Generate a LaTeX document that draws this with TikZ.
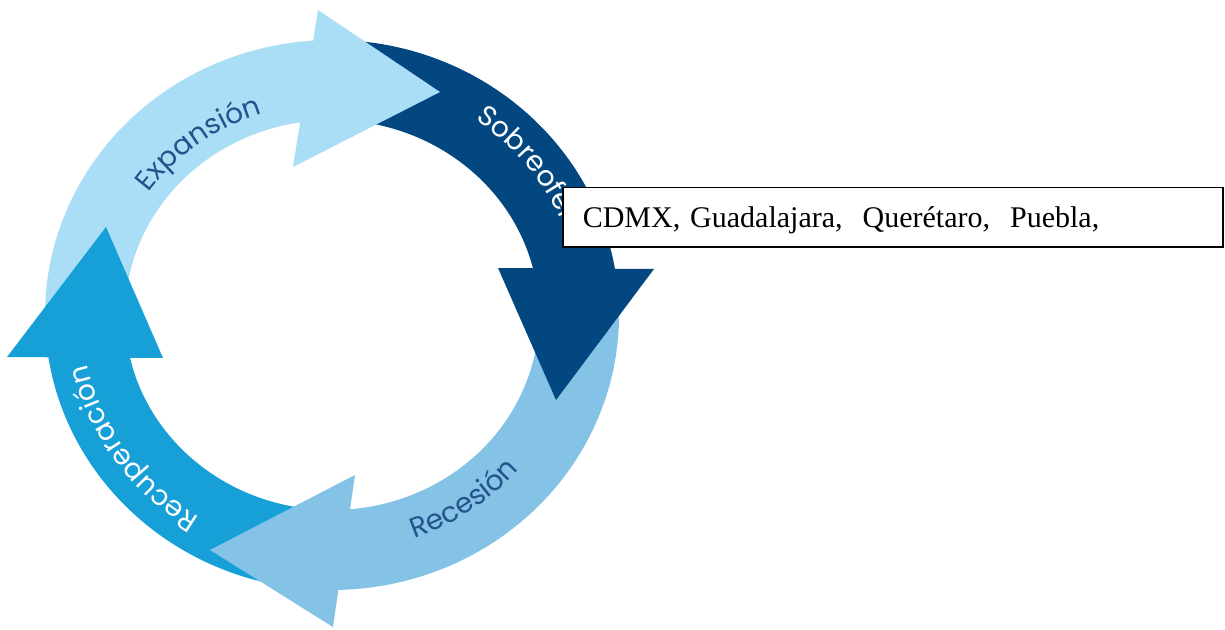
\documentclass[tikz,border=0pt]{standalone}
\usepackage{fontspec}
\setmainfont{Liberation Serif}
\newfontfamily\cyclefont{Poppins}
\definecolor{expblue}{RGB}{170,222,247}
\definecolor{sobreblue}{RGB}{3,71,128}
\definecolor{recesblue}{RGB}{133,195,230}
\definecolor{recupblue}{RGB}{23,160,216}
\definecolor{labelblue}{RGB}{36,82,140}
\newcommand{\cyclesize}{\cyclefont\fontsize{28}{32}\selectfont}
\usetikzlibrary{decorations.text}
\tikzset{
	outerarc/.style={
		x radius=287pt,
		y radius=275pt,
	},
	innerarc/.style={
		x radius=207pt,
		y radius=195pt,
	},
	citybox/.style={
		rectangle,
		draw=black,
		line width=1.5pt,
		fill=white,
		inner xsep=20pt,
		inner ysep=0pt,
		text width=620pt,
		align=left,
		text height=40pt,
		text depth=19.7pt,
		font=\fontsize{30}{34}\selectfont,
	},
}

\begin{document}
\begin{tikzpicture}[x=1pt,y=1pt]
	\useasboundingbox (-332,-314) rectangle (893,315);
	\fill[expblue] (185:287pt and 275pt) arc[outerarc,start angle=185,end angle=89] -- (89:207pt and 195pt) arc[innerarc,start angle=89,end angle=185] -- cycle;
	\fill[sobreblue] (92:287pt and 275pt) arc[outerarc,start angle=92,end angle=6] -- (6:207pt and 195pt) arc[innerarc,start angle=6,end angle=92] -- cycle;
	\fill[recesblue] (8:287pt and 275pt) arc[outerarc,start angle=8,end angle=-93] -- (-93:207pt and 195pt) arc[innerarc,start angle=-93,end angle=8] -- cycle;
	\fill[recupblue] (-91:287pt and 275pt) arc[outerarc,start angle=-91,end angle=-176] -- (-176:207pt and 195pt) arc[innerarc,start angle=-176,end angle=-91] -- cycle;

	\fill[expblue] (-14,305) -- (108,223) -- (-39,148) -- cycle;
	\fill[sobreblue] (166,47) -- (322,46) -- (224,-85) -- cycle;
	\fill[recesblue] (23,-160) -- (1,-312) -- (-122,-235) -- cycle;
	\fill[recupblue] (-325,-42) -- (-169,-43) -- (-226,88) -- cycle;

	\path[decorate,decoration={text along path,text align=center,text color=labelblue,text={|\cyclesize|Expansión}}] (152:224pt and 212pt) arc[x radius=224pt,y radius=212pt,start angle=152,end angle=101];
	\path[decorate,decoration={text along path,text align=left,text color=white,text={|\cyclesize|Sobreoferta}}] (55:250pt and 238pt) arc[x radius=250pt,y radius=238pt,start angle=55,end angle=0];
	\path[decorate,decoration={text along path,text align=center,text color=labelblue,text={|\cyclesize|Recesión}}] (-78:247pt and 237pt) arc[x radius=247pt,y radius=237pt,start angle=-78,end angle=-33];
	\path[decorate,decoration={text along path,text align=center,text color=white,text={|\cyclesize|Recuperación}}] (-122:250pt and 238pt) arc[x radius=250pt,y radius=238pt,start angle=-122,end angle=-168];

	\node[citybox,anchor=base west] (cities) at (230,87.7) {CDMX, Guadalajara,\ \ Querétaro,\ \ Puebla,};
\end{tikzpicture}
\end{document}
